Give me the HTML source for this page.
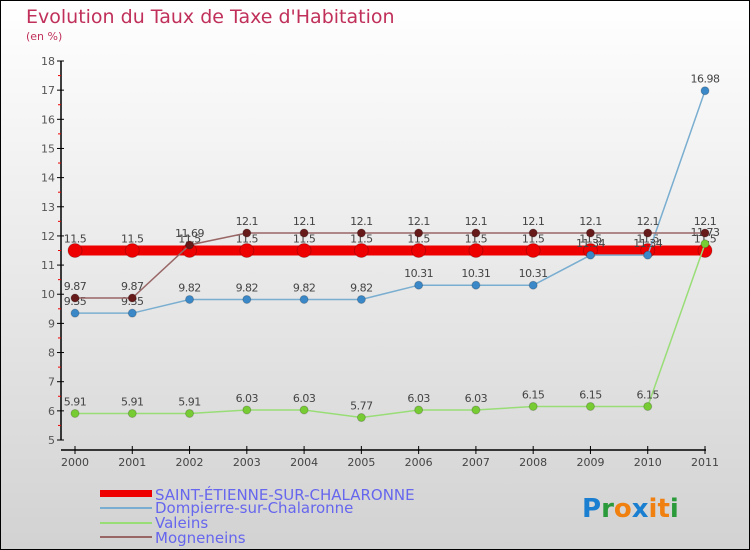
<!DOCTYPE html>
<html><head><meta charset="utf-8"><style>
body{margin:0;}
#wrap{width:750px;height:550px;position:relative;overflow:hidden;font-family:"DejaVu Sans","Liberation Sans",sans-serif;}
</style></head><body>
<div id="wrap">
<svg id="c" width="750" height="550" xmlns="http://www.w3.org/2000/svg">
<defs><linearGradient id="bg" x1="0" y1="0" x2="0" y2="1"><stop offset="0" stop-color="#ffffff"/><stop offset="1" stop-color="#d2d2d2"/></linearGradient></defs>
<rect x="0.5" y="0.5" width="749" height="549" fill="url(#bg)" stroke="#000"/>
<text x="26" y="23" font-size="19" fill="#c0305a">Evolution du Taux de Taxe d'Habitation</text>
<text x="26" y="40" font-size="11" fill="#c0305a">(en %)</text>
<g id="axes"></g><g id="series"></g>
<g>
<rect x="100" y="490" width="52" height="7" fill="#e00"/>
<text x="155" y="500" font-size="15" fill="#6666ee">SAINT-ÉTIENNE-SUR-CHALARONNE</text>
<rect x="100" y="507" width="52" height="2" fill="#7aaed0"/>
<text x="155" y="513" font-size="15" fill="#6666ee">Dompierre-sur-Chalaronne</text>
<rect x="100" y="522" width="52" height="2" fill="#99dd77"/>
<text x="155" y="528" font-size="15" fill="#6666ee">Valeins</text>
<rect x="100" y="536" width="52" height="2" fill="#996666"/>
<text x="155" y="543" font-size="15" fill="#6666ee">Mogneneins</text>
</g>
<g font-size="26" font-weight="bold" font-family="DejaVu Sans, sans-serif">
<text x="582" y="517"><tspan fill="#1a7fd0">P</tspan><tspan fill="#2a9a3a">r</tspan><tspan fill="#f08010">o</tspan><tspan fill="#1a7fd0">x</tspan><tspan fill="#f08010">i</tspan><tspan fill="#f08010">t</tspan><tspan fill="#2a9a3a">i</tspan></text>
</g>
</svg></div>
<script>
const years=["2000","2001","2002","2003","2004","2005","2006","2007","2008","2009","2010","2011"];
const yTicks=[5,6,7,8,9,10,11,12,13,14,15,16,17,18];
const saint=[11.5,11.5,11.5,11.5,11.5,11.5,11.5,11.5,11.5,11.5,11.5,11.5];
const dompierre=[9.35,9.35,9.82,9.82,9.82,9.82,10.31,10.31,10.31,11.34,11.34,16.98];
const valeins=[5.91,5.91,5.91,6.03,6.03,5.77,6.03,6.03,6.15,6.15,6.15,11.73];
const mogneneins=[9.87,9.87,11.69,12.1,12.1,12.1,12.1,12.1,12.1,12.1,12.1,12.1];
const NS="http://www.w3.org/2000/svg";
const x=i=>75+i*(705-75)/(years.length-1);
const y=v=>440-(v-5)*(440-61)/13;
function mk(t,a,p){const e=document.createElementNS(NS,t);for(const k in a)e.setAttribute(k,a[k]);p.appendChild(e);return e;}
const ax=document.getElementById('axes');
const yl=mk('line',{x1:61,y1:y(18),x2:61,y2:y(5),stroke:'#000','stroke-width':1.5},ax);


yTicks.forEach(v=>{
 mk('line',{x1:57,y1:y(v),x2:64,y2:y(v),stroke:'#000'},ax);
 if(v<18)mk('line',{x1:58,y1:y(v+0.5),x2:61,y2:y(v+0.5),stroke:'#e00'},ax);
 const t=mk('text',{x:55,y:y(v)+4,'font-size':11,fill:'#555','text-anchor':'end'},ax);t.textContent=v;
 
 
});
const xl=mk('line',{x1:61,y1:450,x2:706,y2:450,stroke:'#000','stroke-width':1.5},ax);


years.forEach((yr,i)=>{
 mk('line',{x1:x(i),y1:446,x2:x(i),y2:454,stroke:'#000'},ax);
 const t=mk('text',{x:x(i),y:466,'font-size':11,fill:'#444','text-anchor':'middle'},ax);t.textContent=yr;
 
 
});
const sg=document.getElementById('series');
function draw(vals,name,col,lw,r,ptcol){
 const g=mk('g',{},sg);
 
 
 mk('polyline',{points:vals.map((v,i)=>x(i)+','+y(v)).join(' '),fill:'none',stroke:col,'stroke-width':lw},g);
 vals.forEach((v,i)=>{
  const c=mk('circle',{cx:x(i),cy:y(v),r:r,fill:ptcol,stroke:'rgba(0,0,0,0.2)'},g);
  
  
  const t=mk('text',{x:x(i),y:y(v)-8,'font-size':11,fill:'#444','text-anchor':'middle','letter-spacing':'-0.5'},g);
  t.textContent=String(v);
  
  
 });
}
draw(saint,'saint-etienne','#ee0000',10,7,'#ee0000');
draw(valeins,'valeins','#99dd77',1.5,4,'#77cc33');
draw(dompierre,'dompierre','#7aaed0',1.5,4,'#3a88c8');
draw(mogneneins,'mogneneins','#996666',1.5,4,'#661a1a');
</script>
</body></html>
